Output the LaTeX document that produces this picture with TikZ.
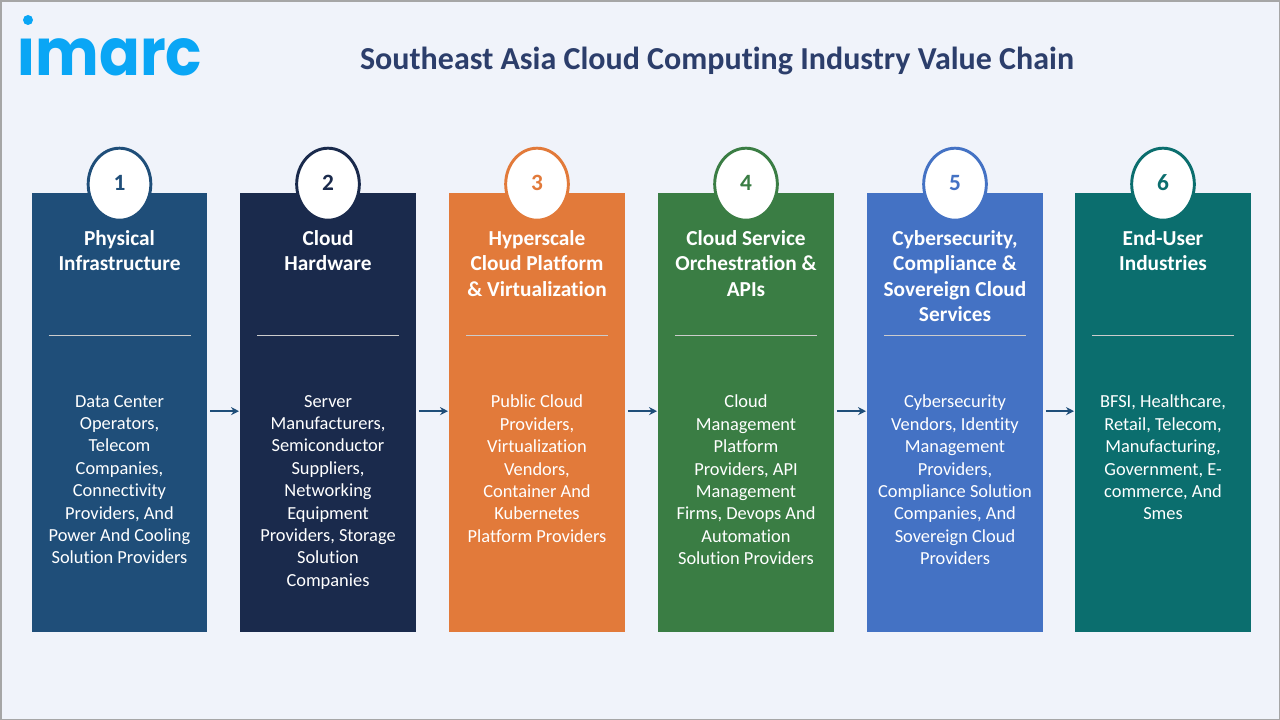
\documentclass[tikz,border=0pt]{standalone}
\usepackage{fontspec}
\setmainfont{Carlito}[Ligatures=CommonOff]
\newfontfamily\logofont{Poppins}[FakeStretch=.92]
\usetikzlibrary{calc,shapes.geometric,arrows.meta}

\definecolor{pagebg}{HTML}{F0F3FA}
\definecolor{pageframe}{HTML}{A6A6A6}
\definecolor{logoblue}{HTML}{0AA6F5}
\definecolor{titleblue}{HTML}{2C3E6B}
\definecolor{stageA}{HTML}{1F4E79}
\definecolor{stageB}{HTML}{1A2A4C}
\definecolor{stageC}{HTML}{E27A3A}
\definecolor{stageD}{HTML}{3A7D44}
\definecolor{stageE}{HTML}{4472C4}
\definecolor{stageF}{HTML}{0B6E6E}

\tikzset{
  stagebox/.style={minimum width=131.6pt,minimum height=329.25pt,inner sep=0pt},
  stagenum/.style={ellipse,draw,fill=white,line width=2.2pt,minimum width=47pt,minimum height=54pt,
    inner sep=0pt,text depth=1.8pt,font=\fontsize{17.5}{18}\selectfont\bfseries},
  stagehead/.style={anchor=north,align=center,text=white,inner sep=0pt,
    font=\fontsize{16}{19.1}\selectfont\bfseries},
  stagebody/.style={anchor=north,align=center,text=white,inner sep=0pt,
    font=\fontsize{13.8}{16.8}\selectfont},
  stageline/.style={draw=white!80!black,line width=.4pt},
  flow/.style={draw=stageA,line width=1.2pt,-{Stealth[length=6pt,width=6pt]}}
}

\begin{document}
\begin{tikzpicture}[x=.75pt,y=-.75pt]
  \useasboundingbox (0,0) rectangle (1280,720);
  \path[fill=pagebg,draw=pageframe,line width=1.5pt] (1,1) rectangle (1280,720);

  % logo, its dot sits higher than the one of the font
  \begin{scope}
    \clip (0,39) rectangle (230,90);
    \node[text=logoblue,inner sep=0pt,font=\logofont\bfseries\fontsize{49}{50}\selectfont] (logo) at (110,50) {imarc};
  \end{scope}
  \fill[logoblue] (28,20) circle (5);
  \node[text=titleblue,inner sep=0pt,font=\fontsize{24}{26}\selectfont\bfseries] (title) at (717,61)
    {Southeast Asia Cloud Computing Industry Value Chain};

  \foreach \i/\x/\col/\head/\body in {%
    1/119.5/stageA/{Physical\\Infrastructure}/{Data Center\\Operators,\\Telecom\\Companies,\\Connectivity\\Providers, And\\Power And Cooling\\Solution Providers},
    2/328/stageB/{Cloud\\Hardware}/{Server\\Manufacturers,\\Semiconductor\\Suppliers,\\Networking\\Equipment\\Providers, Storage\\Solution\\Companies},
    3/537/stageC/{Hyperscale\\Cloud Platform\\\& Virtualization}/{Public Cloud\\Providers,\\Virtualization\\Vendors,\\Container And\\Kubernetes\\Platform Providers},
    4/746/stageD/{Cloud Service\\Orchestration \&\\APIs}/{Cloud\\Management\\Platform\\Providers, API\\Management\\Firms, Devops And\\Automation\\Solution Providers},
    5/955/stageE/{Cybersecurity,\\Compliance \&\\Sovereign Cloud\\Services}/{Cybersecurity\\Vendors, Identity\\Management\\Providers,\\Compliance Solution\\Companies, And\\Sovereign Cloud\\Providers},
    6/1163/stageF/{End-User\\Industries}/{BFSI, Healthcare,\\Retail, Telecom,\\Manufacturing,\\Government, E-\\commerce, And\\Smes}%
  }{
    \node[stagebox,fill=\col] (box\i) at (\x,412.5) {};
    \node[stagenum,draw=\col,text=\col] (num\i) at ([yshift=6.4pt]box\i.north) {\i};
    \node[stagehead] (head\i) at ([yshift=-28pt]box\i.north) {\head};
    \node[stagebody] (body\i) at ([yshift=-151.6pt]box\i.north) {\body};
    \draw[stageline] (\x-71,335) -- (\x+71,335);
  }

  \foreach \a/\b in {1/2,2/3,3/4,4/5,5/6}
    \draw[flow,shorten <=2.2pt,shorten >=.7pt] ([yshift=1pt]box\a.east) -- ([yshift=1pt]box\b.west);
\end{tikzpicture}
\end{document}
